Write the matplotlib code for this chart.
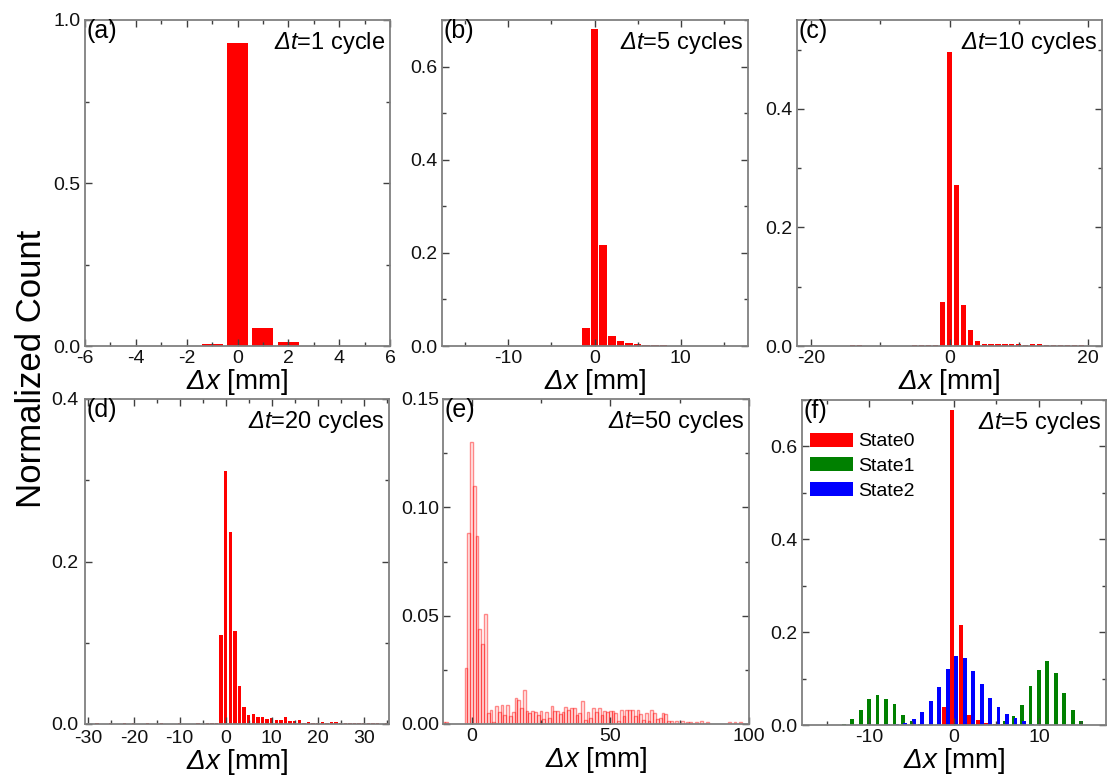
import numpy as np
import matplotlib
matplotlib.use("Agg")
import matplotlib.pyplot as plt
from matplotlib.ticker import MultipleLocator, FormatStrFormatter
from matplotlib.patches import Patch

plt.rcParams['font.family'] = ['Liberation Sans', 'DejaVu Sans']
plt.rcParams['mathtext.fontset'] = 'custom'
plt.rcParams['mathtext.rm'] = 'Liberation Sans:italic'
plt.rcParams['mathtext.it'] = 'Liberation Sans:italic'
plt.rcParams['mathtext.default'] = 'it'
plt.rcParams['axes.unicode_minus'] = False

# ---------------- data ----------------
# (a) dt = 1 cycle
dx_a = np.arange(-3, 5)
cnt_a = [0.0015, 0.0015, 0.006, 0.928, 0.054, 0.011, 0.0015, 0.0]

# (b) dt = 5 cycles
dx_b = np.arange(-5, 12)
cnt_b = [0.001, 0.0008, 0.001, 0.001, 0.039, 0.680, 0.217, 0.022, 0.011,
         0.007, 0.0036, 0.002, 0.003, 0.0015, 0.001, 0.001, 0.0008]

# (c) dt = 10 cycles
dx_c = np.arange(-14, 20)
cnt_c = [0.001, 0.001, 0.0005, 0.0003, 0.0003, 0.0003, 0.0003, 0.0003,
         0.0003, 0.001, 0.0012, 0.001, 0.001, 0.0744, 0.496, 0.2715, 0.0687,
         0.0265, 0.0085, 0.004, 0.0034, 0.004, 0.004, 0.004, 0.003, 0.002,
         0.003, 0.003, 0.002, 0.002, 0.0015, 0.0015, 0.002, 0.0015]

# (d) dt = 20 cycles
dx_d = np.arange(-30, 36)
cnt_d = [0.0, 0.0, 0.001, 0.0, 0.0, 0.0008, 0.0, 0.0, 0.001, 0.0, 0.0008,
         0.0, 0.0, 0.0008, 0.0, 0.0, 0.0008, 0.0, 0.0, 0.0, 0.0008, 0.0,
         0.0, 0.0, 0.001, 0.0, 0.001, 0.001, 0.0015, 0.109, 0.312, 0.236,
         0.114, 0.0465, 0.021, 0.011, 0.012, 0.009, 0.009, 0.006, 0.0074,
         0.005, 0.005, 0.0086, 0.0032, 0.0032, 0.005, 0.0016, 0.0028, 0.0012,
         0.0008, 0.0023, 0.0008, 0.0023, 0.0028, 0.0016, 0.0008, 0.0008,
         0.0008, 0.001, 0.001, 0.0008, 0.0008, 0.0012, 0.0004, 0.0008]

# (e) dt = 50 cycles
dx_e = np.arange(-10, 100)
cnt_e = [0.001, 0.001, 0.0, 0.0, 0.0, 0.0, 0.0, 0.0, 0.026, 0.088,
         0.130, 0.110, 0.087, 0.044, 0.037, 0.051, 0.005, 0.0066, 0.001, 0.0084,
         0.0055, 0.009, 0.0042, 0.009, 0.0035, 0.0055, 0.0118, 0.0112, 0.0072, 0.0155,
         0.006, 0.005, 0.006, 0.0055, 0.0042, 0.006, 0.0023, 0.0055, 0.0026, 0.0084,
         0.006, 0.006, 0.0044, 0.0055, 0.008, 0.0063, 0.0072, 0.0072, 0.0042, 0.005,
         0.0104, 0.002, 0.0055, 0.0026, 0.0072, 0.0055, 0.0074, 0.0042, 0.006, 0.0055,
         0.006, 0.006, 0.005, 0.0012, 0.0066, 0.0035, 0.0066, 0.0066, 0.0066, 0.0035,
         0.0066, 0.0045, 0.002, 0.0051, 0.0014, 0.0066, 0.0051, 0.0023, 0.0026, 0.0051,
         0.0048, 0.0014, 0.0014, 0.0002, 0.0014, 0.0002, 0.0014, 0.0002, 0.0011, 0.0008,
         0.0002, 0.0011, 0.0002, 0.0014, 0.0002, 0.0008, 0.0002, 0.0, 0.0, 0.0,
         0.0, 0.0, 0.0, 0.0008, 0.0, 0.0008, 0.0, 0.0008, 0.0, 0.0]

# (f) dt = 5 cycles, split by state
dx_f = np.arange(-16, 17)
state0 = [0, 0, 0, 0, 0, 0, 0, 0, 0, 0, 0, 0, 0, 0, 0.001, 0.038, 0.679,
          0.216, 0.021, 0.011, 0.005, 0.002, 0.002, 0.001, 0.001, 0, 0, 0,
          0, 0, 0, 0, 0]
state1 = [0, 0.001, 0.001, 0.002, 0.012, 0.032, 0.055, 0.064, 0.057, 0.045,
          0.022, 0.008, 0.003, 0.001, 0, 0, 0, 0, 0, 0.001, 0.001, 0.002,
          0.008, 0.019, 0.044, 0.085, 0.119, 0.138, 0.111, 0.070, 0.032,
          0.009, 0.001]
state2 = [0, 0, 0, 0, 0, 0, 0, 0, 0.002, 0.002, 0.005, 0.013, 0.028, 0.052,
          0.081, 0.121, 0.148, 0.145, 0.116, 0.088, 0.059, 0.038, 0.024,
          0.016, 0.009, 0.002, 0.001, 0.001, 0, 0, 0, 0, 0]
state_labels = ['State0', 'State1', 'State2']
state_colors = ['#ff0000', '#008000', '#0000ff']

# ---------------- figure ----------------
W, H = 1108, 778
fig = plt.figure(figsize=(W / 100, H / 100), dpi=100)


def add_ax(x0, y0, x1, y1):
    return fig.add_axes([x0 / W, 1 - y1 / H, (x1 - x0) / W, (y1 - y0) / H])


def style(ax, xlim, ylim, xmaj, xmin, ymaj, ymin, yfmt, ypad=3, xpad=3):
    ax.set_xlim(*xlim)
    ax.set_ylim(*ylim)
    ax.xaxis.set_major_locator(MultipleLocator(xmaj))
    ax.xaxis.set_minor_locator(MultipleLocator(xmin))
    ax.yaxis.set_major_locator(MultipleLocator(ymaj))
    ax.yaxis.set_minor_locator(MultipleLocator(ymin))
    ax.yaxis.set_major_formatter(FormatStrFormatter(yfmt))
    ax.tick_params(which='both', direction='in', top=True, right=True,
                   colors='#404040', labelcolor='#111111', labelsize=14)
    ax.tick_params(which='major', length=5, width=1.0)
    ax.tick_params(which='minor', length=3, width=1.0)
    ax.tick_params(axis='y', pad=ypad)
    ax.tick_params(axis='x', pad=xpad)
    for s in ax.spines.values():
        s.set_color('#808080')
        s.set_linewidth(1.3)
    ax.set_xlabel(r'$Δx$ [mm]', fontsize=20, labelpad=0)


def annotate(ax, tag, label):
    ax.text(0.005, 0.945, tag, transform=ax.transAxes, fontsize=18,
            ha='left', va='baseline')
    ax.text(0.985, 0.91, label, transform=ax.transAxes, fontsize=17,
            ha='right', va='baseline')


red = '#ff0000'

# (a)
ax = add_ax(85, 20, 390, 346)
ax.bar(dx_a, cnt_a, width=0.83, color=red, linewidth=0)
style(ax, (-6, 6), (0, 1.0), 2, 1, 0.5, 0.25, '%.1f')
annotate(ax, '(a)', r'$Δt$=1 cycle')

# (b)
ax = add_ax(442, 20, 748, 346)
ax.bar(dx_b, cnt_b, width=0.88, color=red, linewidth=0)
style(ax, (-17.7, 17.8), (0, 0.70), 10, 5, 0.2, 0.1, '%.1f')
annotate(ax, '(b)', r'$Δt$=5 cycles')

# (c)
ax = add_ax(797, 20, 1102, 346)
ax.bar(dx_c, cnt_c, width=0.75, color=red, linewidth=0)
style(ax, (-22, 22), (0, 0.55), 20, 10, 0.2, 0.1, '%.1f')
annotate(ax, '(c)', r'$Δt$=10 cycles')

# (d)
ax = add_ax(85, 399, 389, 724)
ax.bar(dx_d, cnt_d, width=0.72, color=red, linewidth=0)
style(ax, (-30.6, 35.5), (0, 0.4), 10, 5, 0.2, 0.1, '%.1f', ypad=5, xpad=4)
annotate(ax, '(d)', r'$Δt$=20 cycles')

# (e) outlined bars
ax = add_ax(443, 399, 749, 724)
dx_e_arr = np.asarray(dx_e)
cnt_e_arr = np.asarray(cnt_e)
nz = cnt_e_arr > 0
ax.bar(dx_e_arr[nz], cnt_e_arr[nz], width=1.0, facecolor=(1, 0, 0, 0.07),
       edgecolor=(1, 0, 0, 0.45), linewidth=1.0)
style(ax, (-10.3, 100.05), (0, 0.15), 50, 25, 0.05, 0.025, '%.2f')
annotate(ax, '(e)', r'$Δt$=50 cycles')

# (f) three states
ax = add_ax(802, 400, 1106, 725)
offsets = [-0.2, 0.0, 0.25]
order = [1, 2, 0]
series = [state0, state1, state2]
for i in order:
    ax.bar(np.asarray(dx_f) + offsets[i], series[i], width=0.45,
           color=state_colors[i], linewidth=0)
style(ax, (-17.9, 17.9), (0, 0.70), 10, 5, 0.2, 0.1, '%.1f')
annotate(ax, '(f)', r'$Δt$=5 cycles')
handles = [Patch(facecolor=c, edgecolor='none') for c in state_colors]
ax.legend(handles, state_labels, loc='upper left', bbox_to_anchor=(0.026, 0.90),
          frameon=False, fontsize=14, handlelength=2.2, handleheight=0.75,
          handletextpad=0.3, labelspacing=0.35, borderaxespad=0.0, borderpad=0.0)

fig.text(32 / W, 1 - 369 / H, 'Normalized Count', rotation=90, fontsize=25,
         ha='center', va='center')

fig.savefig('out.png', dpi=100)
